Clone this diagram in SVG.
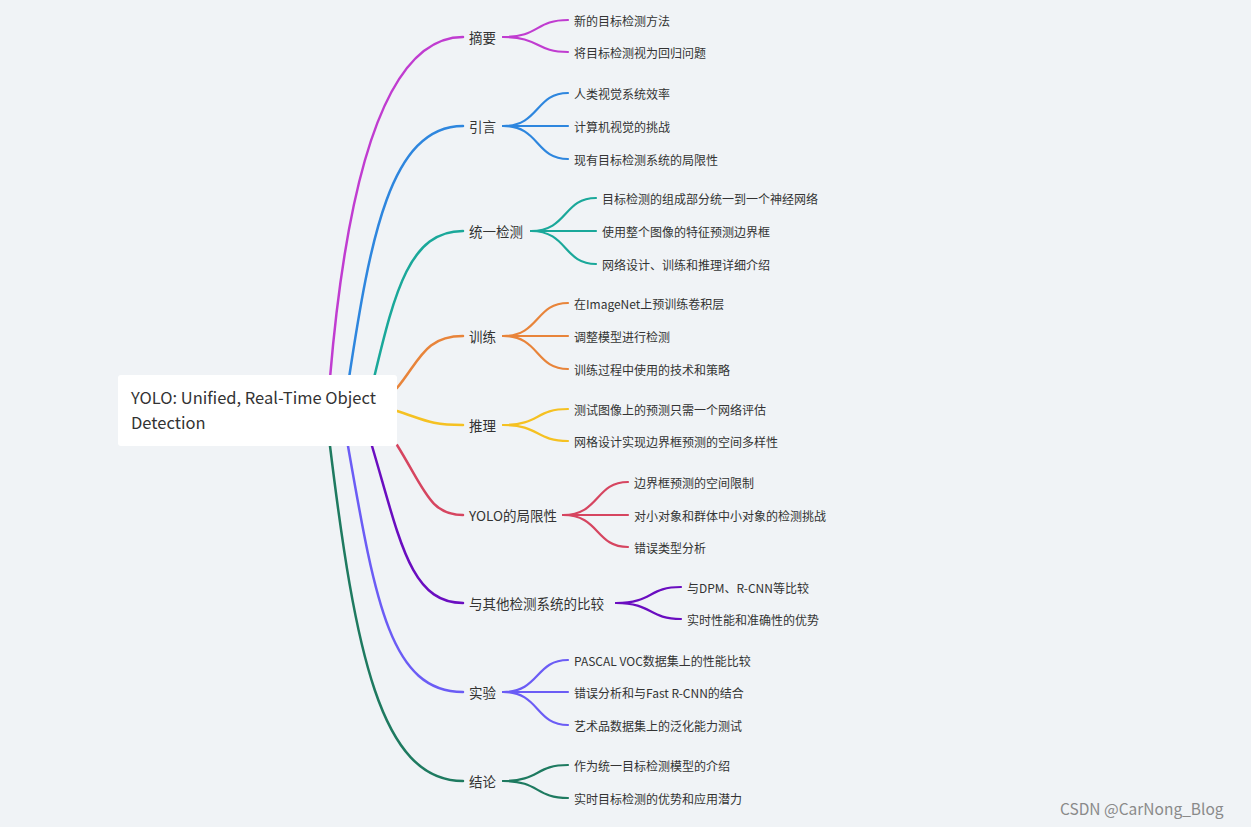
<svg xmlns="http://www.w3.org/2000/svg" width="1251" height="827" viewBox="0 0 1251 827">
<style>
text{font-family:"Noto Sans CJK SC","Noto Sans",sans-serif;fill:#333;dominant-baseline:central}
.b{font-size:13.5px}.c{font-size:12px}.r{font-size:16.5px}
path{fill:none;stroke-linecap:round}
.m{stroke-width:2.5}.k{stroke-width:2.2}
</style>
<rect width="1251" height="827" fill="#f0f3f6"/>
<g id="connectors">
<g stroke="#c03cd0"><path class="m" d="M330,378 C345,200 380,37 463,37"/><path class="k" d="M503,37 C540,37 535,20 568,20"/><path class="k" d="M503,37 C540,37 535,52 568,52"/></g>
<g stroke="#2e86de"><path class="m" d="M349,378 C370,240 390,126 463,126"/><path class="k" d="M503,126 C540,126 535,93 568,93"/><path class="k" d="M503,126 L568,126"/><path class="k" d="M503,126 C540,126 535,159 568,159"/></g>
<g stroke="#1aa89a"><path class="m" d="M374,378 C395,290 410,231 463,231"/><path class="k" d="M531,231 C568,231 563,198 596,198"/><path class="k" d="M531,231 L596,231"/><path class="k" d="M531,231 C568,231 563,264 596,264"/></g>
<g stroke="#e8843a"><path class="m" d="M397,388 C420,360 425,336 463,336"/><path class="k" d="M503,336 C540,336 535,303 568,303"/><path class="k" d="M503,336 L568,336"/><path class="k" d="M503,336 C540,336 535,369 568,369"/></g>
<g stroke="#f5c122"><path class="m" d="M397,411 C425,420 430,425 463,425"/><path class="k" d="M503,425 C540,425 535,409 568,409"/><path class="k" d="M503,425 C540,425 535,441 568,441"/></g>
<g stroke="#d64560"><path class="m" d="M397,445 C425,490 430,515 463,515"/><path class="k" d="M563,515 C600,515 595,482 628,482"/><path class="k" d="M563,515 L628,515"/><path class="k" d="M563,515 C600,515 595,547 628,547"/></g>
<g stroke="#6a0dc0"><path class="m" d="M372,446 C400,540 410,603 463,603"/><path class="k" d="M616,603 C653,603 648,587 681,587"/><path class="k" d="M616,603 C653,603 648,619 681,619"/></g>
<g stroke="#6b5cf5"><path class="m" d="M348,446 C375,600 390,692 463,692"/><path class="k" d="M503,692 C540,692 535,660 568,660"/><path class="k" d="M503,692 L568,692"/><path class="k" d="M503,692 C540,692 535,725 568,725"/></g>
<g stroke="#1e7a60"><path class="m" d="M330,446 C355,650 380,781 463,781"/><path class="k" d="M503,781 C540,781 535,765 568,765"/><path class="k" d="M503,781 C540,781 535,798 568,798"/></g>
</g>
<g id="root"><rect x="118" y="375" width="279" height="71" rx="3" fill="#fff"/><text class="r" x="131" y="397">YOLO: Unified, Real-Time Object</text><text class="r" x="131" y="422">Detection</text></g>
<g id="n1"><text class="b" x="469" y="37">摘要</text><text class="c" x="574" y="20">新的目标检测方法</text><text class="c" x="574" y="52">将目标检测视为回归问题</text></g>
<g id="n2"><text class="b" x="469" y="126">引言</text><text class="c" x="574" y="93">人类视觉系统效率</text><text class="c" x="574" y="126">计算机视觉的挑战</text><text class="c" x="574" y="159">现有目标检测系统的局限性</text></g>
<g id="n3"><text class="b" x="469" y="231">统一检测</text><text class="c" x="602" y="198">目标检测的组成部分统一到一个神经网络</text><text class="c" x="602" y="231">使用整个图像的特征预测边界框</text><text class="c" x="602" y="264">网络设计、训练和推理详细介绍</text></g>
<g id="n4"><text class="b" x="469" y="336">训练</text><text class="c" x="574" y="303">在ImageNet上预训练卷积层</text><text class="c" x="574" y="336">调整模型进行检测</text><text class="c" x="574" y="369">训练过程中使用的技术和策略</text></g>
<g id="n5"><text class="b" x="469" y="425">推理</text><text class="c" x="574" y="409">测试图像上的预测只需一个网络评估</text><text class="c" x="574" y="441">网格设计实现边界框预测的空间多样性</text></g>
<g id="n6"><text class="b" x="469" y="515">YOLO的局限性</text><text class="c" x="634" y="482">边界框预测的空间限制</text><text class="c" x="634" y="515">对小对象和群体中小对象的检测挑战</text><text class="c" x="634" y="547">错误类型分析</text></g>
<g id="n7"><text class="b" x="469" y="603">与其他检测系统的比较</text><text class="c" x="687" y="587">与DPM、R-CNN等比较</text><text class="c" x="687" y="619">实时性能和准确性的优势</text></g>
<g id="n8"><text class="b" x="469" y="692">实验</text><text class="c" x="574" y="660">PASCAL VOC数据集上的性能比较</text><text class="c" x="574" y="692">错误分析和与Fast R-CNN的结合</text><text class="c" x="574" y="725">艺术品数据集上的泛化能力测试</text></g>
<g id="n9"><text class="b" x="469" y="781">结论</text><text class="c" x="574" y="765">作为统一目标检测模型的介绍</text><text class="c" x="574" y="798">实时目标检测的优势和应用潜力</text></g>
<text x="1060" y="808" font-size="15.5" style="fill:#8a8a8a">CSDN @CarNong_Blog</text>
</svg>
